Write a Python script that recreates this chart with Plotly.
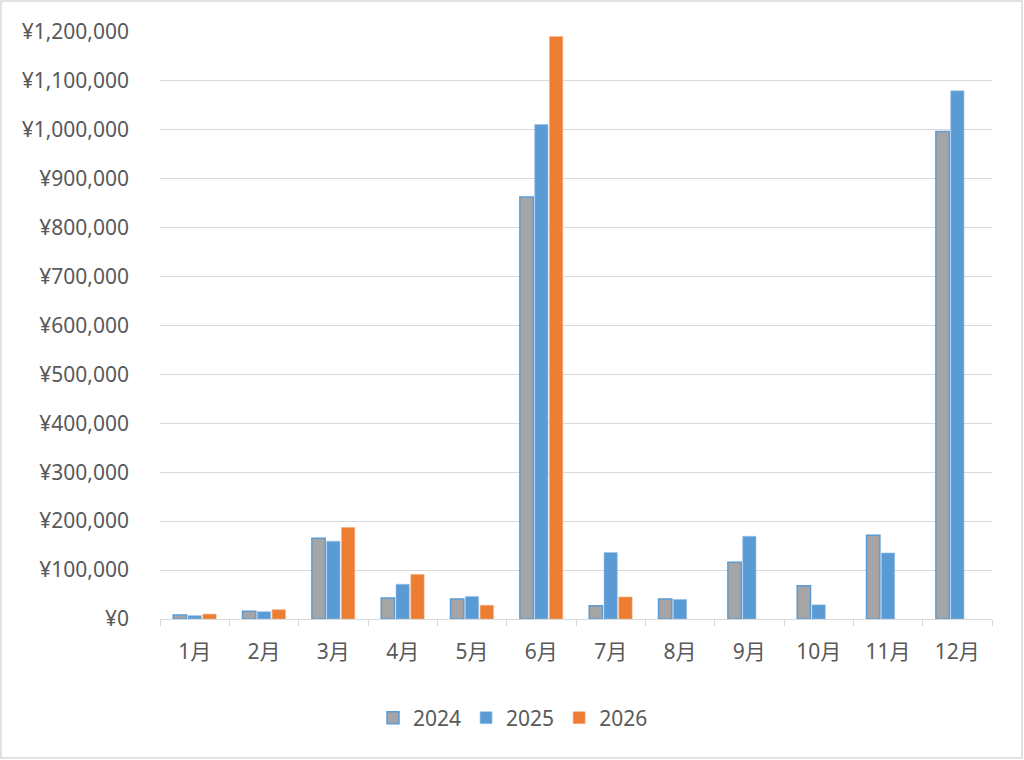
import plotly.graph_objects as go

months = ["1月", "2月", "3月", "4月", "5月", "6月", "7月", "8月", "9月", "10月", "11月", "12月"]
sales_2024 = [8000, 16000, 165000, 43000, 41000, 862000, 27000, 41000, 116000, 68000, 171000, 996000]
sales_2025 = [7000, 15000, 159000, 71000, 46000, 1010000, 136000, 40000, 169000, 29000, 135000, 1079000]
sales_2026 = [10000, 19000, 187000, 91000, 28000, 1190000, 45000, None, None, None, None, None]
y_ticks = list(range(0, 1200001, 100000))
y_tick_text = [f"¥{v:,}" for v in y_ticks]

FONT = "Noto Sans, Noto Sans CJK JP, sans-serif"
TXT = "#595959"

fig = go.Figure()
fig.add_trace(go.Bar(name="2024", x=months, y=sales_2024,
                     marker=dict(color="#A5A5A5", line=dict(color="#5B9BD5", width=1.5))))
fig.add_trace(go.Bar(name="2025", x=months, y=sales_2025,
                     marker=dict(color="#5B9BD5", line=dict(color="#9DC3E6", width=0.6))))
fig.add_trace(go.Bar(name="2026", x=months, y=sales_2026,
                     marker=dict(color="#ED7D31", line=dict(color="#F4B183", width=0.6))))

L, R, T, B = 160, 32, 31, 141
W, H = 1024, 760
pw, ph = W - L - R, H - T - B

fig.update_layout(
    width=W, height=H,
    margin=dict(l=L, r=R, t=T, b=B),
    paper_bgcolor="white", plot_bgcolor="white",
    barmode="group", bargap=0.36, bargroupgap=0.1,
    font=dict(family=FONT, size=21, color=TXT),
    showlegend=True,
    legend=dict(orientation="h", x=(513 - L) / pw, xanchor="center",
                y=(T + ph - 718) / ph, yanchor="middle",
                font=dict(size=21, color=TXT), itemwidth=30, traceorder="normal"),
    shapes=[dict(type="rect", xref="paper", yref="paper",
                 x0=(1 - L) / pw, x1=(W - 2 - L) / pw,
                 y0=(T + ph - (H - 2)) / ph, y1=(T + ph - 1) / ph,
                 line=dict(color="#D9D9D9", width=1.5), layer="below")],
)
fig.update_yaxes(range=[0, 1200000 * 1.001], tickvals=y_ticks, ticktext=y_tick_text,
                 showgrid=True, gridcolor="#D9D9D9", gridwidth=1.2, zeroline=False,
                 showline=False, ticks="", ticklabelstandoff=30,
                 tickfont=dict(size=21, color=TXT))
fig.update_xaxes(type="category", showline=True, linecolor="#D9D9D9", linewidth=1.2,
                 ticks="outside", tickson="boundaries", ticklen=6, tickcolor="#D9D9D9",
                 tickwidth=1.2, ticklabelstandoff=14, showgrid=False,
                 tickfont=dict(size=21, color=TXT))

fig.write_html("out.html", config={"displayModeBar": False})
with open("out.html", "r", encoding="utf-8") as f:
    html = f.read()
html = html.replace("<head>", "<head><style>html,body{margin:0;padding:0;overflow:hidden;}</style>", 1)
with open("out.html", "w", encoding="utf-8") as f:
    f.write(html)
